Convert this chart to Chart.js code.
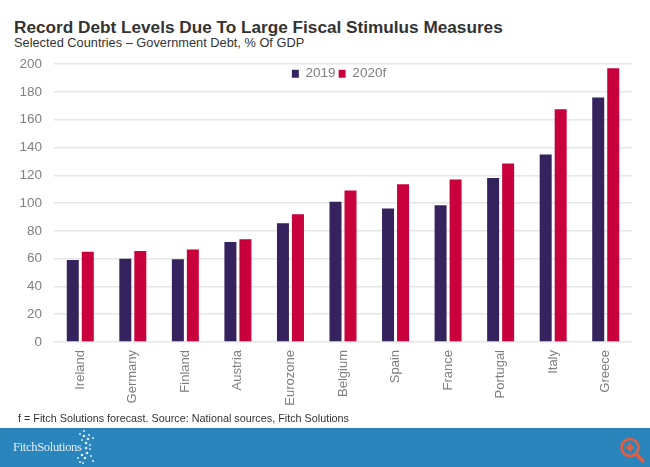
<!DOCTYPE html>
<html>
<head>
<meta charset="utf-8">
<script src="https://cdn.jsdelivr.net/npm/chart.js@4"></script>
<style>
    html, body { margin: 0; padding: 0; background: #fff; overflow: hidden; }
    body { width: 650px; height: 467px; position: relative; font-family: "Liberation Sans", Arial, sans-serif; }
    .txt { position: absolute; white-space: nowrap; }
    #title { left: 14px; top: 17px; font-size: 17.2px; font-weight: bold; color: #333; }
    #subtitle { left: 14px; top: 35px; font-size: 12.8px; color: #333; }
    #source { left: 18px; top: 412px; font-size: 10.8px; color: #333; }
    #wrap { position: absolute; left: 0; top: 44px; width: 650px; height: 376px; }
    #band { position: absolute; left: 0; top: 428px; width: 650px; height: 39px; background: #2b85bd; }
    #logo { left: 13px; top: 12px; font-family: "Liberation Serif", serif; font-size: 12.6px; letter-spacing: -0.35px; color: #dfeef7; }
    #band svg { position: absolute; }
</style>
</head>
<body>
<div class="txt" id="title">Record Debt Levels Due To Large Fiscal Stimulus Measures</div>
<div class="txt" id="subtitle">Selected Countries – Government Debt, % Of GDP</div>
<div id="wrap"><canvas id="myChart"></canvas></div>
<div class="txt" id="source">f = Fitch Solutions forecast. Source: National sources, Fitch Solutions</div>
<div id="band">
    <div class="txt" id="logo">FitchSolutions</div>
    <svg style="left:72px;top:0" width="24" height="39" fill="#dfeef7">
        <circle cx="8" cy="6" r="1"/><circle cx="12" cy="3" r="1"/><circle cx="12" cy="8" r="1.3"/><circle cx="17" cy="7" r="1"/>
        <circle cx="21" cy="10" r="1"/><circle cx="16" cy="11" r="1.3"/><circle cx="10" cy="12" r="1"/><circle cx="14" cy="15" r="1.3"/>
        <circle cx="18" cy="17" r="1"/><circle cx="14" cy="20" r="1.3"/><circle cx="18" cy="21" r="1"/><circle cx="15" cy="25" r="1.3"/>
        <circle cx="10" cy="27" r="1.3"/><circle cx="6" cy="30" r="1"/><circle cx="13" cy="30" r="1.3"/><circle cx="19" cy="28" r="1"/>
        <circle cx="21" cy="33" r="1"/><circle cx="11" cy="35" r="1"/><circle cx="8" cy="34" r="1"/>
    </svg>
    <svg style="left:619px;top:7px" width="28" height="30" fill="none" stroke="#e2603f">
        <circle cx="11" cy="12.5" r="8.5" stroke-width="2.6"/>
        <path d="M17 19 L24 26" stroke-width="3.2" stroke-linecap="round"/>
        <path d="M7 12.5 H15 M11 8.5 V16.5" stroke-width="2.6"/>
    </svg>
</div>
<script>
const categories = ['Ireland', 'Germany', 'Finland', 'Austria', 'Eurozone', 'Belgium', 'Spain', 'France', 'Portugal', 'Italy', 'Greece'];
const debt2019 = [59, 60, 59.5, 72, 85.5, 101, 96, 98.5, 118, 135, 176];
const debt2020f = [65, 65.5, 66.5, 74, 92, 109, 113.5, 117, 128.5, 167.5, 197];
const yTicks = [0, 20, 40, 60, 80, 100, 120, 140, 160, 180, 200];

const fontName = '"Liberation Sans", Arial, sans-serif';

// moves the legend down into the plot, the space it reserved stays above
const legendMover = {
    id: 'legendMover',
    afterLayout(chart) {
        chart.legend.top = 20;
        chart.legend.bottom = chart.legend.top + chart.legend.height;
        chart.legend.left += 23;
        chart.legend.right += 23;
    }
};

const config = {
    type: 'bar',
    data: {
        labels: categories,
        datasets: [
            {
                label: '2019',
                data: debt2019,
                backgroundColor: '#35235d',
                categoryPercentage: 0.571,
                barPercentage: 0.8
            },
            {
                label: '2020f',
                data: debt2020f,
                backgroundColor: '#c8003c',
                categoryPercentage: 0.571,
                barPercentage: 0.8
            }
        ]
    },
    options: {
        responsive: false,
        animation: false,
        devicePixelRatio: 1,
        layout: { padding: { top: 0, right: 18, bottom: 0, left: 0 } },
        plugins: {
            title: { display: false },
            tooltip: { enabled: false },
            legend: {
                display: true,
                position: 'top',
                maxHeight: 20,
                labels: {
                    boxWidth: 7,
                    boxHeight: 8,
                    padding: 3,
                    color: '#7f7f7f',
                    font: { family: fontName, size: 13.5 }
                }
            }
        },
        scales: {
            y: {
                min: 0,
                max: 200,
                afterFit(scale) { scale.width = 54; },
                afterBuildTicks(scale) { scale.ticks = yTicks.map(v => ({ value: v })); },
                border: { display: false },
                grid: { color: '#e6e6e6', lineWidth: 1.5, drawTicks: false },
                ticks: {
                    padding: 12,
                    color: '#7f7f7f',
                    font: { family: fontName, size: 13.5 }
                }
            },
            x: {
                afterFit(scale) { scale.height = 78; },
                border: { display: false },
                grid: { display: false, drawTicks: false },
                ticks: {
                    minRotation: 90,
                    maxRotation: 90,
                    padding: 8,
                    autoSkip: false,
                    color: '#7f7f7f',
                    font: { family: fontName, size: 13 }
                }
            }
        }
    },
    plugins: [legendMover]
};

const canvas = document.getElementById('myChart');
canvas.width = 650;
canvas.height = 376;
const myChart = new Chart(canvas, config);
</script>
</body>
</html>
